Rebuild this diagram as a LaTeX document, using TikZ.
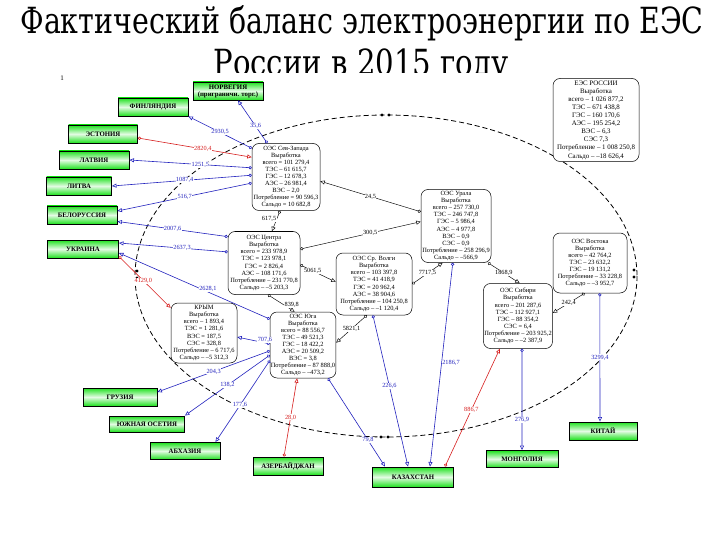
\documentclass[tikz,border=0pt]{standalone}
\usepackage{fontspec}
\setmainfont{Liberation Serif}
\newfontfamily\tnr{Liberation Serif}
\newfontfamily\headfont{DejaVu Serif}
\usetikzlibrary{arrows.meta}
\definecolor{eblue}{RGB}{35,35,190}
\definecolor{ered}{RGB}{215,30,30}
\definecolor{cgreen}{RGB}{30,225,30}
\tikzset{
  region/.style={
    draw=black,
    line width=0.5pt,
    rounded corners=7pt,
    fill=white,
    align=center,
    inner sep=0.8pt,
    font=\tnr\fontsize{6.4}{7.1}\selectfont
  },
  country/.style={
    draw=black,
    line width=0.9pt,
    top color=cgreen,
    bottom color=cgreen,
    middle color=cgreen!12,
    minimum height=18pt,
    inner sep=1pt,
    align=center,
    font=\tnr\bfseries\fontsize{6.8}{7}\selectfont
  },
  expo/.style={draw=eblue, line width=0.6pt,
    {Circle[open,length=3.2pt]}-{Triangle[open,length=4.5pt,width=4pt]}},
  impo/.style={expo, draw=ered},
  flow/.style={expo, draw=black, line width=0.45pt},
  klab/.style={font=\tnr\fontsize{6.3}{6.5}\selectfont, fill=white, inner sep=0.4pt},
  blab/.style={klab, text=eblue},
  rlab/.style={klab, text=ered},
  bound/.style={draw=black, line width=0.8pt, dash pattern=on 5pt off 3pt},
  head/.style={anchor=base, font=\headfont\fontsize{36}{38}\selectfont}
}
\begin{document}
\begin{tikzpicture}[x=1pt,y=-1pt]
  \useasboundingbox (0,0) rectangle (720,540);
  \node[head] (title) at (362,34) {\scalebox{0.79}[1]{Фактический баланс электроэнергии по ЕЭС}};
  \node[head] (title2) at (361,76) {\scalebox{0.81}[1]{России в 2015 году}};

  \begin{scope}
  \clip (30,73) rectangle (690,487);
  \fill[white] (30,73) rectangle (690,487);
  \node[font=\tnr\fontsize{7}{7}\selectfont] (mark) at (62,78) {1};

  % border of Russia
  \draw[bound] (386,276) ellipse [x radius=251, y radius=161];
  \foreach \p in {(382,115),(389,115),(381,437),(388,437)} \fill \p circle[radius=1.7];
  \foreach \p in {(137,271),(137,278),(634,270),(634,277)} \fill \p circle[radius=1.7];

  \node[region,font=\tnr\fontsize{6.9}{8.1}\selectfont,minimum width=86pt,minimum height=83pt] (ees) at (596,120) {ЕЭС РОССИИ\\Выработка\\всего – 1 026 877,2\\ТЭС – 671 438,8\\ГЭС – 160 170,6\\АЭС – 195 254,2\\ВЭС – 6,3\\СЭС 7,3\\Потребление – 1 008 250,8\\Сальдо – –18 626,4};
  \node[region,minimum width=68pt,minimum height=67pt] (szap) at (286,177) {ОЭС Сев-Запада\\Выработка\\всего = 101 279,4\\ТЭС – 61 615,7\\ГЭС – 12 678,3\\АЭС – 26 981,4\\ВЭС – 2,0\\Потребление = 90 596,3\\Сальдо = 10 682,8};
  \node[region,minimum width=70pt,minimum height=73pt] (ural) at (456,226) {ОЭС Урала\\Выработка\\всего – 257 730,0\\ТЭС – 246 747,8\\ГЭС – 5 986,4\\АЭС – 4 977,8\\ВЭС – 0,9\\СЭС – 0,9\\Потребление – 258 296,9\\Сальдо – –566,9};
  \node[region,minimum width=72pt,minimum height=63pt] (centr) at (264,263) {ОЭС Центра\\Выработка\\всего = 233 978,9\\ТЭС = 123 978,1\\ГЭС = 2 826,4\\АЭС – 108 171,6\\Потребление – 231 770,8\\Сальдо – –5 203,3};
  \node[region,minimum width=76pt,minimum height=62pt] (volga) at (374,284) {ОЭС Ср. Волги\\Выработка\\всего – 103 397,8\\ТЭС = 41 418,9\\ГЭС = 20 962,4\\АЭС = 38 904,6\\Потребление – 104 250,8\\Сальдо – –1 120,4};
  \node[region,minimum width=66pt,minimum height=60pt] (krym) at (204,333) {КРЫМ\\Выработка\\всего – 1 893,4\\ТЭС = 1 281,6\\ВЭС = 187,5\\СЭС = 328,8\\Потребление – 6 717,6\\Сальдо – –5 312,3};
  \node[region,minimum width=63pt,minimum height=66pt] (yug) at (303,345) {ОЭС Юга\\Выработка\\всего = 88 556,7\\ТЭС – 49 521,3\\ГЭС – 18 422,2\\АЭС = 20 509,2\\ВЭС = 3,8\\Потребление – 87 888,0\\Сальдо – –473,2};
  \node[region,minimum width=69pt,minimum height=65pt] (sibir) at (518,316) {ОЭС Сибири\\Выработка\\всего – 201 287,6\\ТЭС – 112 927,1\\ГЭС – 88 354,2\\СЭС = 6,4\\Потребление – 203 925,2\\Сальдо – –2 387,9};
  \node[region,minimum width=74pt,minimum height=60pt] (vostok) at (590,263) {ОЭС Востока\\Выработка\\всего – 42 764,2\\ТЭС – 23 632,2\\ГЭС – 19 131,2\\Потребление – 33 228,8\\Сальдо – –3 952,7};

  \node[country,minimum width=70pt] (norw) at (228,91) {НОРВЕГИЯ\\(приграничн. торг.)};
  \node[country,minimum width=70pt] (finl) at (153,107) {ФИНЛЯНДИЯ};
  \node[country,minimum width=69pt] (eston) at (103,134) {ЭСТОНИЯ};
  \node[country,minimum width=70pt] (latv) at (94,160) {ЛАТВИЯ};
  \node[country,minimum width=65pt] (litva) at (79,186) {ЛИТВА};
  \node[country,minimum width=70pt] (belor) at (82,215) {БЕЛОРУССИЯ};
  \node[country,minimum width=71pt] (ukr) at (83,249) {УКРАИНА};
  \node[country,minimum width=74pt] (gruz) at (120,397) {ГРУЗИЯ};
  \node[country,minimum width=75pt,minimum height=16pt] (osset) at (147,424) {ЮЖНАЯ ОСЕТИЯ};
  \node[country,minimum width=70pt,minimum height=17pt] (abkh) at (185,451) {АБХАЗИЯ};
  \node[country,minimum width=70pt] (azer) at (288,466) {АЗЕРБАЙДЖАН};
  \node[country,minimum width=81pt,minimum height=20pt] (kazakh) at (413,477) {КАЗАХСТАН};
  \node[country,minimum width=72pt,minimum height=17pt] (mong) at (522,459) {МОНГОЛИЯ};
  \node[country,minimum width=68pt] (china) at (603,431) {КИТАЙ};

  \draw[expo] (szap.119) -- node[blab,pos=.4]{35,6} ([xshift=10pt]norw.south);
  \draw[expo] (szap.140) -- node[blab]{2930,5} (finl.south east);
  \draw[impo] ([yshift=-4pt]eston.east) -- node[rlab,pos=.57]{2820,4} (szap.150);
  \draw[expo] (szap.165) -- node[blab,pos=.42]{1251,5} (latv.east);
  \draw[expo] (szap.177) -- node[blab,pos=.48]{1087,4} (litva.east);
  \draw[expo] (szap.190) -- node[blab]{516,7} ([yshift=4pt]belor.east);
  \draw[expo] (centr.144) -- node[blab]{2007,6} ([yshift=3pt]belor.south east);
  \draw[expo] (centr.163) -- node[blab,pos=.42]{2637,3} ([yshift=6pt]ukr.east);
  \draw[expo] (yug.142) -- node[blab,pos=.41,above]{2628,1} ([yshift=-4pt]ukr.east);
  \draw[impo] ([yshift=2pt]ukr.south east) -- node[rlab,pos=.47]{4129,0} (krym.143);
  \draw[expo] (yug.178) -- node[blab,pos=.15,above]{707,6} (krym.353);
  \draw[expo] (yug.190) -- node[blab]{204,3} ([yshift=5pt]gruz.east);
  \draw[expo] (yug.197) -- node[blab]{138,2} (osset.north east);
  \draw[expo] (yug.205) -- node[blab,pos=.55]{177,6} ([xshift=-5pt]abkh.north east);
  \draw[impo] ([xshift=-4pt]azer.north) -- node[rlab]{28,0} (yug.260);
  \draw[expo] (yug.307) -- node[blab,pos=.7]{79,8} ([xshift=-28pt]kazakh.north);
  \draw[expo] (volga.268) -- node[blab,pos=.47]{226,6} ([xshift=-5pt]kazakh.north);
  \draw[expo] (ural.265) -- node[blab,pos=.49,right]{2186,7} ([xshift=17pt]kazakh.north);
  \draw[impo] ([xshift=32pt]kazakh.north) -- node[rlab,pos=.48]{886,7} (sibir.241);
  \draw[expo] (sibir.277) -- node[blab,pos=.7]{276,9} (mong.north);
  \draw[expo] (vostok.288) -- node[blab]{3299,4} ([xshift=-3pt]china.north);

  \draw[flow] (ural.158) -- node[klab]{24,5} (szap.353);
  \draw[flow] (szap.260) -- node[klab,pos=.4,left]{617,5} (centr.76);
  \draw[flow] (centr.21) -- node[klab,pos=.58]{300,5} (ural.173);
  \draw[flow] (centr.357) -- node[klab,pos=.35]{5061,5} (volga.177);
  \draw[flow] (volga.0) -- node[klab]{7717,5} (ural.250);
  \draw[flow] (ural.311) -- node[klab]{1868,9} (sibir.87);
  \draw[flow] (vostok.260) -- node[klab]{242,4} (sibir.5);
  \draw[flow] (centr.277) -- node[klab,pos=.6,right]{839,8} (yug.104);
  \draw[flow] (volga.257) -- node[klab]{5821,1} (yug.4);
  \end{scope}
\end{tikzpicture}
\end{document}
